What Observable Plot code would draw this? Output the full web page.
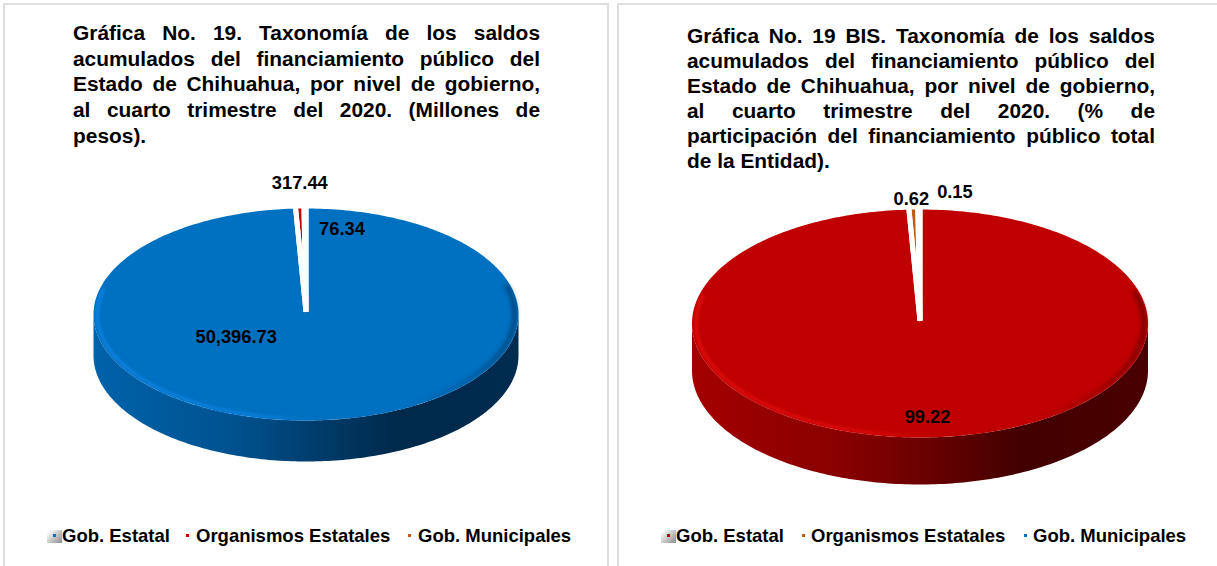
<!DOCTYPE html>
<html lang="es">
<head>
<meta charset="utf-8">
<script src="https://cdn.jsdelivr.net/npm/d3@7"></script>
<script src="https://cdn.jsdelivr.net/npm/@observablehq/plot@0.6"></script>
<style>
html,body{margin:0;padding:0;background:#fff;width:1217px;height:566px;overflow:hidden;font-family:"Liberation Sans",Arial,sans-serif;color:#000}
.panel{position:absolute;top:0;height:566px;box-sizing:border-box}
.frame{position:absolute;background:#dedede}
.panel svg{position:absolute;left:0;top:0;overflow:visible}
.title{position:absolute;font-weight:bold;font-size:20.9px;z-index:2}
.title div{text-align:justify;text-align-last:justify;white-space:normal}
.title div.last{text-align-last:left}
.legend{position:absolute;top:524px;left:0;height:24px;font-weight:bold;font-size:18.5px;line-height:24px;white-space:nowrap}
.legend span.t{position:absolute;top:0}
.legend i{position:absolute;display:block;width:3px;height:3px;top:10px}
.legend b{position:absolute;display:block;width:15px;height:13px;top:6px;background:linear-gradient(135deg,#fff 8%,#d8d8d8 38%,#8c8c8c 100%)}
</style>
</head>
<body>
<div id="root"></div>
<script>
// ---- data ----
const categoriasA = ["Gob. Estatal", "Organismos Estatales", "Gob. Municipales"];
const saldosMillones = [50396.73, 317.44, 76.34];
const coloresA = ["#0070c0", "#c00000", "#c55a11"];

const categoriasB = ["Gob. Estatal", "Organismos Estatales", "Gob. Municipales"];
const participacion = [99.22, 0.62, 0.15];
const coloresB = ["#c00000", "#c55a11", "#0070c0"];

const tituloA = [
  "Gráfica No. 19. Taxonomía de los saldos",
  "acumulados del financiamiento público del",
  "Estado de Chihuahua, por nivel de gobierno,",
  "al cuarto trimestre del 2020. (Millones de",
  "pesos)."
];
const tituloB = [
  "Gráfica No. 19 BIS. Taxonomía de los saldos",
  "acumulados del financiamiento público del",
  "Estado de Chihuahua, por nivel de gobierno,",
  "al cuarto trimestre del 2020. (% de",
  "participación del financiamiento público total",
  "de la Entidad)."
];

// ---- layout and style of each panel ----
const panelA = {
  id: "a", left: 0, width: 609, cx: 305.5, cy: 314, rx: 212.5, ry: 106, depth: 41,
  cats: categoriasA, values: saldosMillones, colors: coloresA, title: tituloA,
  format: d3.format(",.2f"),
  titleBox: {left: 73, top: 20, width: 467, lh: 25.7},
  labelOffsets: [[-75, -83], [0, -25], [37, 21]],
  side: ["#0062aa", "#00528f", "#003f70", "#00294a", "#002c50"],
  rimLight: "#1187ea", rimDark: "#003560",
  legendText: [62, 196, 418], legendDot: [null, 186, 408], boxDot: 53
};
const panelB = {
  id: "b", left: 0, width: 1217, cx: 919.5, cy: 323, rx: 228, ry: 114, depth: 47,
  cats: categoriasB, values: participacion, colors: coloresB, title: tituloB,
  format: d3.format(".2f"),
  titleBox: {left: 687, top: 23, width: 468, lh: 25},
  labelOffsets: [[2, -20], [-2, -10], [36, -17]],
  side: ["#a40000", "#880000", "#6c0000", "#420000", "#4a0000"],
  rimLight: "#e81010", rimDark: "#5a0000",
  legendText: [676, 811, 1033], legendDot: [null, 802, 1024], boxDot: 667
};

const rad = Math.PI / 180;
const unit = (a) => ({x: Math.sin(a), y: Math.cos(a)});
function sweep(a0, a1) {
  const n = Math.max(2, Math.ceil(Math.abs(a1 - a0) / rad));
  return d3.range(n + 1).map((i) => a0 + (a1 - a0) * i / n);
}

function drawPie(p) {
  const arcs = d3.pie().sort(null).startAngle(0).endAngle(2 * Math.PI)(p.values);
  const d = p.depth / p.ry;
  const apex = {x: 0, y: 0.025};

  const slices = arcs.flatMap((arc, i) => [
    {x: 0, y: 0, cat: p.cats[i]},
    ...sweep(arc.startAngle, arc.endAngle).map((a) => ({...unit(a), cat: p.cats[i]}))
  ]);
  const separators = arcs.flatMap((arc, i) => [
    {...unit(arc.startAngle), k: i}, {...apex, k: i}, {...unit(arc.endAngle), k: i}
  ]);
  const lower = sweep(90 * rad, 270 * rad);
  const wall = [
    ...lower.map((a) => unit(a)),
    ...lower.slice().reverse().map((a) => ({x: unit(a).x, y: unit(a).y - d}))
  ];
  const inset = 0.982;
  const rimL = sweep(176 * rad, 284 * rad).map((a) => ({x: unit(a).x * inset, y: unit(a).y * inset}));
  const rimD = sweep(74 * rad, 150 * rad).map((a) => ({x: unit(a).x * inset, y: unit(a).y * inset}));

  const labels = arcs.map((arc, i) => ({
    ...unit((arc.startAngle + arc.endAngle) / 2),
    text: p.format(p.values[i]),
    off: p.labelOffsets[i]
  }));

  const defs = () => {
    const s = d3.create("svg:defs");
    const grad = (id, stops) => {
      const g = s.append("linearGradient").attr("id", id).attr("x1", 0).attr("x2", 1).attr("y1", 0).attr("y2", 0);
      stops.forEach(([o, c, a]) => g.append("stop").attr("offset", o).attr("stop-color", c).attr("stop-opacity", a));
    };
    grad("wall-" + p.id, [[0, p.side[0], 1], [0.33, p.side[1], 1], [0.5, p.side[2], 1], [0.72, p.side[3], 1], [1, p.side[4], 1]]);
    grad("light-" + p.id, [[0, p.rimLight, 0.85], [0.7, p.rimLight, 0.7], [1, p.rimLight, 0]]);
    grad("dark-" + p.id, [[0, p.rimDark, 0], [0.6, p.rimDark, 0.35], [1, p.rimDark, 0.8]]);
    return s.node();
  };

  return Plot.plot({
    width: p.width,
    height: 566,
    marginLeft: p.cx - p.rx,
    marginRight: p.width - p.cx - p.rx,
    marginTop: p.cy - p.ry,
    marginBottom: 566 - (p.cy + p.ry + p.depth),
    x: {domain: [-1, 1], axis: null},
    y: {domain: [-1 - d, 1], axis: null},
    color: {domain: p.cats, range: p.colors},
    style: {background: "transparent", overflow: "visible"},
    marks: [
      defs,
      Plot.line(wall, {x: "x", y: "y", fill: `url(#wall-${p.id})`, stroke: "none"}),
      Plot.line(slices, {x: "x", y: "y", z: "cat", fill: "cat", stroke: "none"}),
      Plot.line(rimL, {x: "x", y: "y", stroke: `url(#light-${p.id})`, strokeWidth: 3, imageFilter: "blur(1.6px)"}),
      Plot.line(rimD, {x: "x", y: "y", stroke: `url(#dark-${p.id})`, strokeWidth: 4, imageFilter: "blur(2px)"}),
      Plot.line(separators, {x: "x", y: "y", z: "k", stroke: "white", strokeWidth: 5, strokeLinejoin: "bevel"}),
      ...labels.map((l) => Plot.text([l], {
        x: "x", y: "y", text: "text", dx: l.off[0], dy: l.off[1],
        fontFamily: "'Liberation Sans', Arial, sans-serif", fontWeight: "bold", fontSize: 18.3, fill: "black"
      }))
    ]
  });
}

const root = document.getElementById("root");
const frame = (l, t, w, h) => {
  const el = document.createElement("div");
  el.className = "frame";
  el.style.cssText = `left:${l}px;top:${t}px;width:${w}px;height:${h}px`;
  root.appendChild(el);
};
frame(3, 3, 606, 2); frame(3, 3, 2, 563); frame(607, 3, 2, 563);
frame(617, 3, 600, 2); frame(617, 3, 2, 563);

[panelA, panelB].forEach((p) => {
  const wrap = document.createElement("div");
  wrap.className = "panel";
  wrap.style.cssText = `left:0;width:${p.width}px`;
  wrap.appendChild(drawPie(p));

  const t = document.createElement("div");
  t.className = "title";
  t.style.cssText = `left:${p.titleBox.left}px;top:${p.titleBox.top}px;width:${p.titleBox.width}px;line-height:${p.titleBox.lh}px`;
  p.title.forEach((line, i) => {
    const l = document.createElement("div");
    l.textContent = line;
    if (i === p.title.length - 1) l.className = "last";
    t.appendChild(l);
  });
  wrap.appendChild(t);

  const lg = document.createElement("div");
  lg.className = "legend";
  p.cats.forEach((c, i) => {
    const s = document.createElement("span");
    s.className = "t";
    s.style.left = p.legendText[i] + "px";
    s.textContent = c;
    lg.appendChild(s);
    if (i === 0) {
      const b = document.createElement("b");
      b.style.left = (p.boxDot - 6) + "px";
      lg.appendChild(b);
    }
    const dot = document.createElement("i");
    dot.style.left = (i === 0 ? p.boxDot : p.legendDot[i]) + "px";
    dot.style.background = p.colors[i];
    lg.appendChild(dot);
  });
  wrap.appendChild(lg);
  root.appendChild(wrap);
});
</script>
</body>
</html>
